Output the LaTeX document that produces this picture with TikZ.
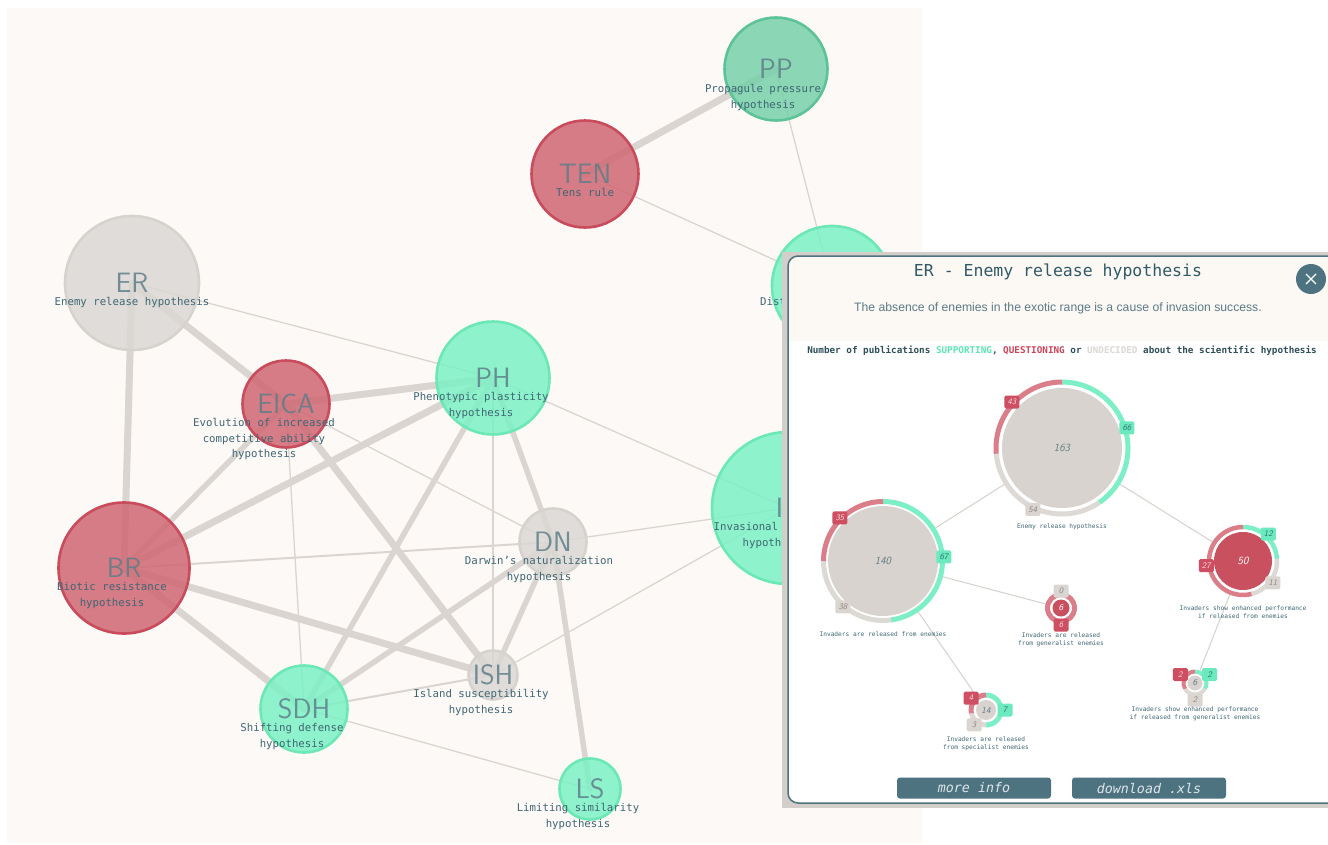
\documentclass[tikz,border=0pt]{standalone}
\usepackage{fontspec}
\setmonofont{DejaVu Sans Mono}
\newfontfamily\uifont{Liberation Sans}
\usepackage{tikz}
\usetikzlibrary{positioning,calc,backgrounds}

\newcommand{\definitions}{%
  % colour of the network canvas
  \definecolor{colBg}{HTML}{FDF9F6}
  % colour of supporting hypotheses
  \definecolor{colS}{HTML}{7BF1C5}
  \definecolor{colSline}{HTML}{6CE8B5}
  % colour of the propagule pressure hypothesis
  \definecolor{colP}{HTML}{76D0AA}
  \definecolor{colPline}{HTML}{5CC396}
  % colour of questioned hypotheses
  \definecolor{colQ}{HTML}{CF6773}
  \definecolor{colQline}{HTML}{C94B5C}
  % colour of undecided hypotheses
  \definecolor{colU}{HTML}{DBD8D4}
  \definecolor{colUline}{HTML}{D6D2CE}
  % colour of the links between hypotheses
  \definecolor{colLink}{HTML}{DAD5D0}
  % colour of abbreviations and names
  \definecolor{colAbbr}{HTML}{5E7E88}
  \definecolor{colDesc}{HTML}{3E6673}
  % colours of the detail window
  \definecolor{colTeal}{HTML}{4D7380}
  \definecolor{colShadow}{HTML}{D3CEC9}
  \definecolor{colHead}{HTML}{FCF8F4}
  \definecolor{colTitle}{HTML}{2F5A66}
  \definecolor{colSub}{HTML}{5B7B86}
  \definecolor{colBtnTxt}{HTML}{DDE7EA}
  \definecolor{colSubLink}{HTML}{D6D1CC}
  % colours of the publication rings
  \definecolor{ringS}{HTML}{7DEFC6}
  \definecolor{ringQ}{HTML}{DB7E89}
  \definecolor{ringU}{HTML}{DDD9D5}
  % colours of the count badges
  \definecolor{colBadgeS}{HTML}{6CE9BE}
  \definecolor{colBadgeQ}{HTML}{CD4F61}
  \definecolor{colBadgeU}{HTML}{DAD5D0}
  \definecolor{colBadgeStxt}{HTML}{2F7A70}
  \definecolor{colBadgeQtxt}{HTML}{F6D5DA}
  \definecolor{colBadgeUtxt}{HTML}{8E8984}
  % colours of the chart discs
  \definecolor{colDiscU}{HTML}{D8D3CF}
  \definecolor{colDiscQ}{HTML}{C9505F}
  \definecolor{colNum}{HTML}{647C84}
  % colours of the legend words
  \definecolor{colLegS}{HTML}{5DE6B3}
  \definecolor{colLegQ}{HTML}{CF4459}
  \definecolor{colLegU}{HTML}{DCD8D4}
  \definecolor{colLegTxt}{HTML}{2E4F5A}

  % centre coordinate of Enemy release
  \coordinate (oER) at (132, 283);
  % centre coordinate of Evolution of increased competitive ability
  \coordinate (oEICA) at (286, 404);
  % centre coordinate of Biotic resistance
  \coordinate (oBR) at (124, 568);
  % centre coordinate of Phenotypic plasticity
  \coordinate (oPH) at (493, 378);
  % centre coordinate of Darwin's naturalization
  \coordinate (oDN) at (553, 542);
  % centre coordinate of Island susceptibility
  \coordinate (oISH) at (493, 675);
  % centre coordinate of Shifting defense
  \coordinate (oSDH) at (304, 709);
  % centre coordinate of Limiting similarity
  \coordinate (oLS) at (590, 789);
  % centre coordinate of Tens rule
  \coordinate (oTEN) at (585, 174);
  % centre coordinate of Propagule pressure
  \coordinate (oPP) at (776, 69);
  % centre coordinate of Disturbance
  \coordinate (oDI) at (832, 286);
  % centre coordinate of Invasional meltdown
  \coordinate (oIM) at (788, 508);
}

% rings of supporting, undecided and questioning publications
% #1 chart, #2 ring radius, #3 ring width, #4 badge distance,
% #5 supporting, #6 questioning, #7 undecided
\newcommand{\pubring}[7]{%
  \pgfmathsetmacro{\pubTot}{#5+#6+#7}
  \pgfmathsetmacro{\pubS}{(#5/\pubTot)*360}
  \pgfmathsetmacro{\pubU}{(#7/\pubTot)*360}
  \pgfmathsetmacro{\pubMidS}{-90+\pubS/2}
  \pgfmathsetmacro{\pubMidU}{-90+\pubS+\pubU/2}
  \pgfmathsetmacro{\pubMidQ}{90+(\pubS+\pubU)/2}
  \draw[line width=#3, draw=ringS] ($(#1)+(-90:#2)$)
    arc[start angle=-90, end angle=-90+\pubS, radius=#2];
  \draw[line width=#3, draw=ringU] ($(#1)+(-90+\pubS:#2)$)
    arc[start angle=-90+\pubS, end angle=-90+\pubS+\pubU, radius=#2];
  \draw[line width=#3, draw=ringQ] ($(#1)+(-90+\pubS+\pubU:#2)$)
    arc[start angle=-90+\pubS+\pubU, end angle=270, radius=#2];
  \ifnum#5>0 \node[badgeS] (#1S) at ($(#1)+(\pubMidS:#4)$) {#5};\fi
  \node[badgeU] (#1U) at ($(#1)+(\pubMidU:#4)$) {#7};
  \node[badgeQ] (#1Q) at ($(#1)+(\pubMidQ:#4)$) {#6};
}

\tikzset{
  hyp/.style={circle, inner sep=0pt, line width=2.6pt, fill opacity=0.85,
    text opacity=0.85, text=colAbbr, text height=19pt, text depth=0pt,
    font=\sffamily\fontsize{28}{30}\selectfont},
  hypS/.style={hyp, draw=colSline, fill=colS},
  hypP/.style={hyp, draw=colPline, fill=colP},
  hypQ/.style={hyp, draw=colQline, fill=colQ},
  hypU/.style={hyp, draw=colUline, fill=colU},
  desc/.style={inner sep=0pt, align=center, text=colDesc,
    font=\ttfamily\fontsize{10.7}{15.5}\selectfont},
  link/.style={draw=colLink, line cap=round},
  heavylink/.style={link, line width=7pt},
  midlink/.style={link, line width=5.5pt},
  faintlink/.style={link, line width=1.3pt},
  disc/.style={circle, inner sep=0pt,
    font=\sffamily\itshape\fontsize{11}{12}\selectfont},
  badge/.style={inner sep=1pt, minimum width=15pt, minimum height=13pt,
    rounded corners=1.5pt, font=\sffamily\itshape\fontsize{8.5}{9}\selectfont},
  badgeS/.style={badge, fill=colBadgeS, text=colBadgeStxt},
  badgeQ/.style={badge, fill=colBadgeQ, text=colBadgeQtxt},
  badgeU/.style={badge, fill=colBadgeU, text=colBadgeUtxt},
  note/.style={inner sep=0pt, align=center, text=colDesc,
    font=\ttfamily\fontsize{6.2}{8}\selectfont},
  sublink/.style={draw=colSubLink, line width=1pt},
  button/.style={rounded corners=3pt, fill=colTeal, text=colBtnTxt,
    minimum width=154pt, minimum height=21pt, inner sep=0pt,
    font=\ttfamily\itshape\fontsize{13.3}{14}\selectfont},
}

\begin{document}
\begin{tikzpicture}[x=1pt, y=-1pt]

  % define colors and centres
  \definitions

  % page and canvas
  \useasboundingbox (0,0) rectangle (1328,844);
  \begin{scope}[on background layer]
    \fill[white] (0,0) rectangle (1328,844);
    \fill[colBg] (7,8) rectangle (922,843);
  \end{scope}
  \clip (0,0) rectangle (1328,844);

  % hypotheses, coloured by their overall support
  \node[hypU, minimum size=134pt] (ER) at (oER) {ER};
  \node[hypQ, minimum size=87pt] (EICA) at (oEICA) {EICA};
  \node[hypQ, minimum size=131pt] (BR) at (oBR) {BR};
  \node[hypS, minimum size=113pt] (PH) at (oPH) {PH};
  \node[hypU, minimum size=67pt] (DN) at (oDN) {DN};
  \node[hypU, minimum size=49pt] (ISH) at (oISH) {ISH};
  \node[hypS, minimum size=87pt] (SDH) at (oSDH) {SDH};
  \node[hypS, minimum size=61pt] (LS) at (oLS) {LS};
  \node[hypQ, minimum size=107pt] (TEN) at (oTEN) {TEN};
  \node[hypP, minimum size=103pt] (PP) at (oPP) {PP};
  \node[hypS, minimum size=120pt] (DI) at (oDI) {};
  \node[hypS, minimum size=152pt] (IM) at (oIM) {};
  \node[hyp] (IMt) at ([xshift=-8.5pt]IM.center) {I};

  % links between hypotheses
  \begin{scope}[on background layer]
    \draw[heavylink] (ER.center) -- (BR.center);
    \draw[heavylink] (ER.center) -- (EICA.center);
    \draw[heavylink] (EICA.center) -- (PH.center);
    \draw[heavylink] (TEN.center) -- (PP.center);
    \draw[heavylink] (BR.center) -- (PH.center);
    \draw[heavylink] (BR.center) -- (ISH.center);
    \draw[heavylink] (BR.center) -- (SDH.center);
    \draw[heavylink] (EICA.center) -- (ISH.center);
    \draw[midlink] (BR.center) -- (EICA.center);
    \draw[midlink] (SDH.center) -- (PH.center);
    \draw[midlink] (SDH.center) -- (DN.center);
    \draw[midlink] (PH.center) -- (DN.center);
    \draw[midlink] (DN.center) -- (ISH.center);
    \draw[midlink] (DN.center) -- (LS.center);
    \draw[faintlink, line width=2pt] (BR.center) -- (DN.center);
    \draw[faintlink, line width=2pt] (SDH.center) -- (ISH.center);
    \draw[faintlink] (SDH.center) -- (LS.center);
    \draw[faintlink] (EICA.center) -- (SDH.center);
    \draw[faintlink] (PH.center) -- (ISH.center);
    \draw[faintlink] (PH.center) -- (IM.center);
    \draw[faintlink] (ER.center) -- (PH.center);
    \draw[faintlink] (EICA.center) -- (DN.center);
    \draw[faintlink] (DN.center) -- (IM.center);
    \draw[faintlink] (ISH.center) -- (IM.center);
    \draw[faintlink] (TEN.center) -- (DI.center);
    \draw[faintlink] (PP.center) -- (DI.center);
  \end{scope}

  % add name label for each hypothesis
  \node[desc] (dER) [below=5pt of ER.base] {Enemy release hypothesis};
  \node[desc] (dEICA) [below=5pt of EICA.base, xshift=-22pt] {Evolution of increased\\competitive ability\\hypothesis};
  \node[desc] (dBR) [below=5pt of BR.base, xshift=-12pt] {Biotic resistance\\hypothesis};
  \node[desc] (dPH) [below=5pt of PH.base, xshift=-12pt] {Phenotypic plasticity\\hypothesis};
  \node[desc] (dDN) [below=5pt of DN.base, xshift=-14pt] {Darwin’s naturalization\\hypothesis};
  \node[desc] (dISH) [below=5pt of ISH.base, xshift=-12pt] {Island susceptibility\\hypothesis};
  \node[desc] (dSDH) [below=5pt of SDH.base, xshift=-12pt] {Shifting defense\\hypothesis};
  \node[desc] (dLS) [below=5pt of LS.base, xshift=-12pt] {Limiting similarity\\hypothesis};
  \node[desc] (dTEN) [below=5pt of TEN.base] {Tens rule};
  \node[desc] (dPP) [below=6pt of PP.base, xshift=-13pt] {Propagule pressure\\hypothesis};
  \node[desc] (dDI) [below right=11pt and -72pt of DI.center] {Dist};
  \node[desc, align=left] (dIM) [below right=5pt and -66pt of IMt.base] {Invasional\\\hspace*{29pt}hypoth};

  % detail window of the selected hypothesis
  \fill[colShadow] (782,252) rectangle (1328,808);
  \begin{scope}
    \clip[rounded corners=10pt] (788,256) rectangle (1345,803);
    \fill[white] (788,256) rectangle (1345,803);
    \fill[colHead] (788,256) rectangle (1345,341);
  \end{scope}
  \draw[colTeal, line width=1.5pt, rounded corners=10pt] (788,256) rectangle (1345,803);

  % title, statement and legend
  \node[text=colTitle, font=\ttfamily\fontsize{16.5}{18}\selectfont] (title) at (1058,272) {ER - Enemy release hypothesis};
  \node[text=colSub, font=\uifont\fontsize{12.2}{14}\selectfont] (claim) at (1058,308) {The absence of enemies in the exotic range is a cause of invasion success.};
  \node[text=colLegTxt, font=\ttfamily\bfseries\fontsize{9.3}{11}\selectfont] (legend) at (1062,351)
    {Number of publications \textcolor{colLegS}{SUPPORTING}, \textcolor{colLegQ}{QUESTIONING} or \textcolor{colLegU}{UNDECIDED} about the scientific hypothesis};

  % close button
  \node[circle, fill=colTeal, minimum size=30pt] (close) at (1311,279) {};
  \draw[white, line width=1.2pt] ($(close)+(-5,-5)$) -- ($(close)+(5,5)$);
  \draw[white, line width=1.2pt] ($(close)+(-5,5)$) -- ($(close)+(5,-5)$);

  % publication charts
  \node[disc, minimum size=120pt, outer sep=8.5pt, fill=colDiscU, text=colNum] (cER) at (1062,448) {163};
  \node[disc, minimum size=110pt, outer sep=7pt, fill=colDiscU, text=colNum] (cRel) at (883,561) {140};
  \node[disc, minimum size=58pt, outer sep=7.25pt, fill=colDiscQ, text=white] (cPerf) at (1243,561) {50};
  \node[disc, minimum size=17pt, outer sep=7.5pt, fill=colDiscQ, text=white, font=\sffamily\itshape\fontsize{9}{10}\selectfont] (cGen) at (1061,608) {6};
  \node[disc, minimum size=20pt, outer sep=7.5pt, fill=colDiscU, text=colNum, font=\sffamily\itshape\fontsize{9}{10}\selectfont] (cSpec) at (986,710) {14};
  \node[disc, minimum size=15pt, outer sep=6pt, fill=colDiscU, text=colNum, font=\sffamily\itshape\fontsize{9}{10}\selectfont] (cPerfGen) at (1195,683) {6};

  % links between the charts
  \draw[sublink] (cER) -- (cRel);
  \draw[sublink] (cER) -- (cPerf);
  \draw[sublink] (cRel) -- (cGen);
  \draw[sublink] (cRel) -- (cSpec);
  \draw[sublink] (cPerf) -- (cPerfGen);

  % rings and counts
  \pubring{cER}{66}{5pt}{68}{66}{43}{54}
  \pubring{cRel}{59.5}{5pt}{61}{67}{35}{38}
  \pubring{cPerf}{34}{4.5pt}{37}{12}{27}{11}
  \pubring{cGen}{13.5}{5pt}{17}{0}{6}{0}
  \pubring{cSpec}{15}{5pt}{19}{7}{4}{3}
  \pubring{cPerfGen}{11.5}{4pt}{17}{2}{2}{2}

  % chart names
  \node[note] (nER) [below=7.5pt of cER] {Enemy release hypothesis};
  \node[note] (nRel) [below=9pt of cRel] {Invaders are released from enemies};
  \node[note] (nPerf) [below=8.75pt of cPerf] {Invaders show enhanced performance\\if released from enemies};
  \node[note] (nGen) [below=9pt of cGen] {Invaders are released\\from generalist enemies};
  \node[note] (nSpec) [below=9.5pt of cSpec] {Invaders are released\\from specialist enemies};
  \node[note] (nPerfGen) [below=10.5pt of cPerfGen] {Invaders show enhanced performance\\if released from generalist enemies};

  % buttons
  \node[button] (info) at (974,788) {more info};
  \node[button] (xls) at (1149,788) {download .xls};

\end{tikzpicture}
\end{document}
